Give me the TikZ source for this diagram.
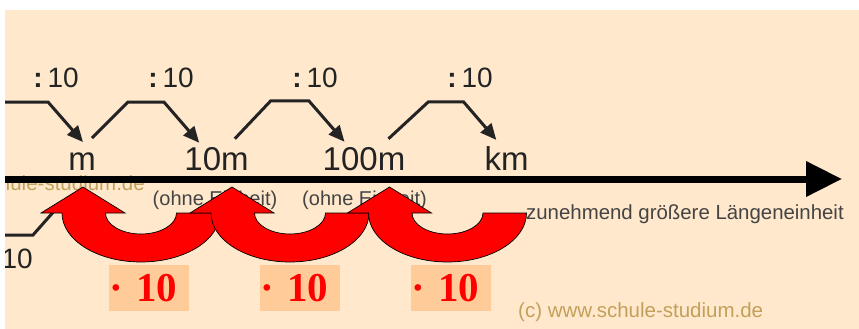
\documentclass[tikz,border=0pt]{standalone}
\usepackage{fontspec}
\setmainfont{Liberation Sans}
\newfontfamily\malfont{Liberation Serif}
\usetikzlibrary{arrows.meta}
\definecolor{peach}{RGB}{255,232,204}
\definecolor{kasten}{RGB}{255,204,153}
\definecolor{wasser}{RGB}{195,160,90}
\definecolor{schrift}{RGB}{35,35,35}
\begin{document}
\begin{tikzpicture}[
 x=1pt,y=-1pt,
 einheit/.style={inner sep=0pt,anchor=base,font=\fontsize{33}{36}\selectfont,text=schrift},
 teiler/.style={inner sep=0pt,anchor=base east,font=\fontsize{28}{30}\selectfont,text=schrift},
 klein/.style={inner sep=0pt,font=\fontsize{20}{22}\selectfont,text=schrift!85},
 marke/.style={inner sep=0pt,font=\fontsize{20.5}{22}\selectfont,text=wasser},
 faktor/.style={fill=kasten,inner sep=0pt,minimum width=80pt,minimum height=46pt,text width=80pt,align=left,font=\malfont\bfseries\fontsize{41}{43}\selectfont,text=red},
 schritt/.style={-{Triangle[length=16pt,width=14pt]},line width=3pt,draw=schrift},
 achse/.style={-{Triangle[length=36pt,width=34pt]},line width=7pt},
 ring/.style={fill=red,draw=black,line width=0.7pt}
]
\useasboundingbox (0,0) rectangle (859,329);
\fill[white] (0,0) rectangle (859,329);
\fill[peach] (5,10) rectangle (859,329);
\begin{scope}
\clip (5,10) rectangle (859,329);
\node[marke,anchor=base east] (wz1) at (145,190) {schule-studium.de};
\coordinate (links) at (-5,179);
\coordinate (rechts) at (842,179);
\draw[achse] (links) -- (rechts);
\node[einheit] (m) at (82,170) {m};
\node[einheit] (zehn) at (216.5,170) {10m};
\node[einheit] (hundert) at (364,170) {100m};
\node[einheit] (km) at (506.5,170) {km};
\node[teiler] (t0) at (33,268) {\textbf{:}\hspace{5pt}10};
\node[teiler] (t1) at (79,88) {\textbf{:}\hspace{5pt}10};
\node[teiler] (t2) at (194,88) {\textbf{:}\hspace{5pt}10};
\node[teiler] (t3) at (338,88) {\textbf{:}\hspace{5pt}10};
\node[teiler] (t4) at (493,88) {\textbf{:}\hspace{5pt}10};
\coordinate (rand) at (-5,102);
\coordinate (rand2) at (-5,235);
\draw[schritt] (rand) -- (48,102) -- ([shift={(1,-10)}]m.north);
\draw[schritt] ([shift={(-4,-14)}]m.north east) -- ++(36,-36) -- ++(36,0) -- ([shift={(15,-4)}]zehn.north west);
\draw[schritt] ([shift={(-14,-8)}]zehn.north east) -- ++(36,-38) -- ++(38,0) -- ([shift={(22,-5)}]hundert.north west);
\draw[schritt] ([shift={(-17,-8)}]hundert.north east) -- ++(40,-37) -- ++(35,0) -- ([shift={(12,-6)}]km.north west);
\draw[schritt,-] (rand2) -- (33,235) -- (56,209);
\node[klein,anchor=base] (oe1) at (215,205) {(ohne Einheit)};
\node[klein,anchor=base] (oe2) at (364.5,205) {(ohne Einheit)};
\node[klein,anchor=base west,font=\fontsize{20.4}{22}\selectfont] (zu) at (526,219) {zunehmend größere Längeneinheit};
\foreach \c in {141,290,447.5}
 \filldraw[ring] (\c+79,213) arc[start angle=0,end angle=180,x radius=79,y radius=49] -- (\c-100,213) -- (\c-58,187) -- (\c-16,213) -- (\c-35.5,213) arc[start angle=180,end angle=0,x radius=35.5,y radius=21] -- cycle;
\node[faktor] (f1) at (149,288) {· 10};
\node[faktor] (f2) at (300,288) {· 10};
\node[faktor] (f3) at (451,288) {· 10};
\node[marke,anchor=base west] (wz2) at (518,317) {(c) www.schule-studium.de};
\end{scope}
\end{tikzpicture}
\end{document}
